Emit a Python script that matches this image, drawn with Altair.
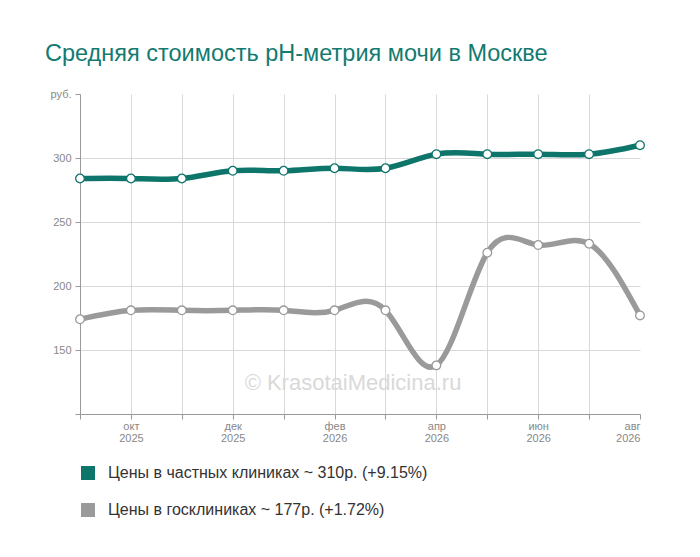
import altair as alt
import pandas as pd

months = list(range(12))
month_labels = ["", "окт\n2025", "", "дек\n2025", "", "фев\n2026", "", "апр\n2026", "", "июн\n2026", "", "авг\n2026"]
private_vals = [284, 284, 284, 290, 290, 292, 292, 303, 303, 303, 303, 310]
gov_vals = [174, 181, 181, 181, 181, 181, 181, 138, 226, 232, 233, 177]
series_names = ["Цены в частных клиниках ~ 310р. (+9.15%)", "Цены в госклиниках ~ 177р. (+1.72%)"]
series_colors = ["#0e756b", "#9a9a9a"]
y_ticks = [100, 150, 200, 250, 300, 350]

rows = []
for m, v in zip(months, private_vals):
    rows.append({"m": m, "v": v, "s": series_names[0]})
for m, v in zip(months, gov_vals):
    rows.append({"m": m, "v": v, "s": series_names[1]})
df = pd.DataFrame(rows)

labels_js = "[" + ",".join("'" + l.replace("\n", "|") + "'" for l in month_labels) + "]"

x = alt.X("m:Q", scale=alt.Scale(domain=[0, 11], nice=False, zero=False),
          axis=alt.Axis(values=months, title=None,
                        labelExpr="split(" + labels_js + "[datum.value], '|')",
                        labelFontSize=11, labelColor="#888", labelFont="Liberation Sans",
                        labelLineHeight=12, labelPadding=1,
                        tickColor="#999", tickSize=5, domainColor="#999",
                        gridColor={"condition": {"test": "datum.value == 11", "value": "transparent"}, "value": "#d9d9d9"}))
y = alt.Y("v:Q", scale=alt.Scale(domain=[100, 350], nice=False, zero=False),
          axis=alt.Axis(values=y_ticks, title=None,
                        labelExpr="datum.value == 350 ? 'руб.' : (datum.value == 100 ? '' : datum.label)",
                        labelFontSize=11, labelColor="#888", labelFont="Liberation Sans",
                        tickColor="#999", tickSize=5, domainColor="#999", labelPadding=4,
                        gridColor={"condition": {"test": "datum.value == 350", "value": "transparent"}, "value": "#d9d9d9"}))
color = alt.Color("s:N", scale=alt.Scale(domain=series_names, range=series_colors),
                  legend=alt.Legend(title=None, orient="none", legendX=0, legendY=371,
                                    symbolType="square", symbolSize=49, symbolStrokeWidth=7,
                                    labelFontSize=16, labelColor="#333", labelFont="Liberation Sans",
                                    rowPadding=1, labelLimit=500, labelOffset=12, symbolOpacity=1))

base = alt.Chart(df)
lines = base.mark_line(interpolate="natural", strokeWidth=5.5).encode(x=x, y=y, color=color, detail="s:N")
points = base.mark_point(filled=False, fill="white", fillOpacity=1, size=75, strokeWidth=1.3, opacity=1).encode(
    x=x, y=y, color=alt.Color("s:N", scale=alt.Scale(domain=series_names, range=series_colors), legend=None))
watermark = alt.Chart(pd.DataFrame({"t": ["© KrasotaiMedicina.ru"]})).mark_text(
    fontSize=22, color="#d9d9d9", font="Liberation Sans", align="center", baseline="middle").encode(
    text="t:N", x=alt.value(273), y=alt.value(289))

chart = alt.layer(lines, points, watermark).properties(
    width=560, height=320,
    title=alt.TitleParams("Средняя стоимость pH-метрия мочи в Москве", anchor="start", dx=-5, offset=23,
                          fontSize=23.5, fontWeight="normal", color="#137a70", font="Liberation Sans"),
    autosize=alt.AutoSizeParams(type="none"),
    padding={"left": 72, "top": 86, "right": 52, "bottom": 135},
).configure_view(stroke=None)

chart.save("out.html", embed_options={"renderer": "svg", "actions": False})
